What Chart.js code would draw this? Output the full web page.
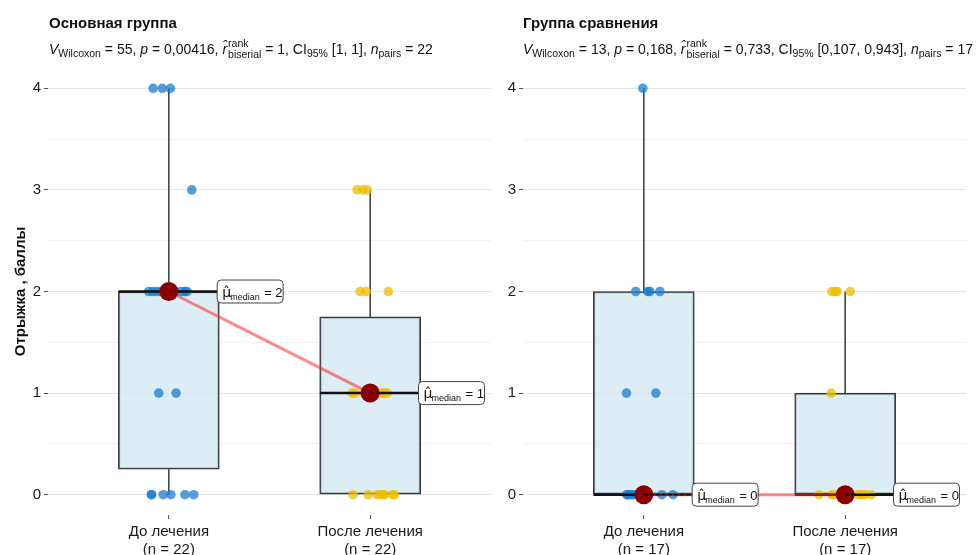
<!DOCTYPE html>
<html>
<head>
<meta charset="utf-8">
<script src="https://cdn.jsdelivr.net/npm/chart.js@4"></script>
<style>
  body { margin: 0; background: #fff; font-family: "Liberation Sans", Arial, sans-serif; }
  #wrap { position: relative; width: 978px; height: 555px; overflow: hidden; }
  canvas { position: absolute; top: 0; }
  .ttl { position: absolute; font-weight: bold; font-size: 15px; color: #111; top: 14px; white-space: nowrap; }
  .sub { position: absolute; font-size: 14px; color: #111; top: 39px; white-space: nowrap; line-height: 20px; }
  .sub sub { font-size: 10.5px; vertical-align: -3px; }
  .stk { display: inline-block; vertical-align: middle; font-size: 10.5px; line-height: 11px; margin-left: 1px; position: relative; top: -1px; }
  .stk span { display: block; }
</style>
</head>
<body>
<div id="wrap">
  <canvas id="left" width="495" height="555" style="left:0;width:495px;height:555px"></canvas>
  <canvas id="right" width="483" height="555" style="left:495px;width:483px;height:555px"></canvas>
  <div class="ttl" style="left:49px">Основная группа</div>
  <div class="sub" style="left:49px"><i>V</i><sub>Wilcoxon</sub> = 55, <i>p</i> = 0,00416, <i>r̂</i><span class="stk"><span>rank</span><span>biserial</span></span> = 1, CI<sub>95%</sub> [1, 1], <i>n</i><sub>pairs</sub> = 22</div>
  <div class="ttl" style="left:523px">Группа сравнения</div>
  <div class="sub" style="left:523px"><i>V</i><sub>Wilcoxon</sub> = 13, <i>p</i> = 0,168, <i>r̂</i><span class="stk"><span>rank</span><span>biserial</span></span> = 0,733, CI<sub>95%</sub> [0,107, 0,943], <i>n</i><sub>pairs</sub> = 17</div>
</div>
<script>
// данные
const categories = ["До лечения", "После лечения"];
const mainTickLabels = [["До лечения", "(n = 22)"], ["После лечения", "(n = 22)"]];
const compTickLabels = [["До лечения", "(n = 17)"], ["После лечения", "(n = 17)"]];
const yTicks = [0, 1, 2, 3, 4];

// Основная группа
const mainBefore = [4, 4, 4, 3, 2, 2, 2, 2, 2, 2, 2, 2, 2, 2, 1, 1, 0, 0, 0, 0, 0, 0];
const mainBeforeJitter = [-0.078, -0.033, 0.008, 0.114, -0.10, -0.08, -0.06, -0.04, -0.02, 0.0, 0.03, 0.06, 0.08, 0.09, -0.05, 0.036, -0.086, -0.086, -0.028, 0.01, 0.08, 0.124];
const mainAfter = [3, 3, 3, 2, 2, 2, 1, 1, 1, 1, 1, 1, 1, 1, 0, 0, 0, 0, 0, 0, 0, 0];
const mainAfterJitter = [-0.065, -0.035, -0.015, -0.05, -0.02, 0.09, -0.09, -0.075, -0.03, 0.0, 0.02, 0.06, 0.07, 0.085, -0.085, -0.01, 0.035, 0.05, 0.065, 0.07, 0.11, 0.12];
const mainQ1 = [0.25, 0];
const mainMedian = [2, 1];
const mainQ3 = [2, 1.75];
const mainWhiskerLow = [0, 0];
const mainWhiskerHigh = [4, 3];

// Группа сравнения
const compBefore = [4, 2, 2, 2, 2, 1, 1, 0, 0, 0, 0, 0, 0, 0, 0, 0, 0];
const compBeforeJitter = [-0.005, -0.04, 0.02, 0.03, 0.08, -0.086, 0.06, -0.085, -0.08, -0.07, -0.06, -0.05, -0.02, 0.0, 0.02, 0.09, 0.145];
const compAfter = [2, 2, 2, 2, 1, 0, 0, 0, 0, 0, 0, 0, 0, 0, 0, 0, 0];
const compAfterJitter = [-0.066, -0.05, -0.04, 0.025, -0.07, -0.13, -0.065, -0.06, -0.03, -0.01, 0.0, 0.02, 0.065, 0.075, 0.085, 0.1, 0.13];
const compQ1 = [0, 0];
const compMedian = [0, 0];
const compQ3 = [2, 1];
const compWhiskerLow = [0, 0];
const compWhiskerHigh = [4, 2];

const blue = "rgba(25,125,205,0.75)";
const yellow = "rgba(238,190,0,0.75)";
const boxFill = "rgba(205,230,242,0.7)";
const edge = "#3a3a3a";
const labelOffset = 0.24;

function points(values, jitter, pos) {
  return values.map((v, i) => ({ x: pos + jitter[i], y: v }));
}

// подпись медианы в рамке
const medianLabels = {
  id: "medianLabels",
  afterDatasetsDraw(chart, args, opts) {
    const ctx = chart.ctx;
    const xs = chart.scales.x, ys = chart.scales.y;
    opts.medians.forEach((m, i) => {
      const x0 = xs.getPixelForValue(i + 1 + labelOffset);
      const y0 = ys.getPixelForValue(m);
      const w = 66, h = 23;
      ctx.save();
      ctx.beginPath();
      ctx.roundRect(x0, y0 - h / 2, w, h, 4);
      ctx.fillStyle = "#fff";
      ctx.fill();
      ctx.strokeStyle = "#444";
      ctx.lineWidth = 1;
      ctx.stroke();
      ctx.fillStyle = "#111";
      ctx.textBaseline = "alphabetic";
      ctx.font = '14px "DejaVu Sans", sans-serif';
      ctx.fillText("μ\u0302", x0 + 5, y0 + 5);
      ctx.font = '9px "Liberation Sans", sans-serif';
      ctx.fillText("median", x0 + 13, y0 + 8);
      ctx.font = '13px "Liberation Sans", sans-serif';
      ctx.fillText("= " + m, x0 + 47, y0 + 5);
      ctx.restore();
    });
  }
};

function makeChart(id, before, beforeJ, after, afterJ, q1, med, q3, wLo, wHi, tickLabels, isLeft) {
  const datasets = [];
  datasets.push({
    type: "bar",
    data: [1, 2].map((c, i) => ({ x: c, y: [q1[i], q3[i]] })),
    backgroundColor: boxFill,
    borderColor: edge,
    borderWidth: 1.5,
    borderSkipped: false,
    barThickness: 101,
    order: 10
  });
  [0, 1].forEach(i => {
    const c = i + 1;
    [[wLo[i], q1[i]], [q3[i], wHi[i]]].forEach(seg => {
      if (seg[0] === seg[1]) return;
      datasets.push({
        type: "scatter", showLine: true,
        data: [{ x: c, y: seg[0] }, { x: c, y: seg[1] }],
        borderColor: edge, borderWidth: 1.5, pointRadius: 0, order: 9
      });
    });
  });
  datasets.push({
    type: "scatter", data: points(before, beforeJ, 1),
    backgroundColor: blue, borderWidth: 0, pointRadius: 4.8, order: 8
  });
  datasets.push({
    type: "scatter", data: points(after, afterJ, 2),
    backgroundColor: yellow, borderWidth: 0, pointRadius: 4.8, order: 8
  });
  [0, 1].forEach(i => {
    const c = i + 1;
    datasets.push({
      type: "scatter", showLine: true,
      data: [{ x: c - 0.25, y: med[i] }, { x: c + 0.25, y: med[i] }],
      borderColor: "#111", borderWidth: 2.5, pointRadius: 0, order: 7
    });
  });
  datasets.push({
    type: "scatter", showLine: true,
    data: [{ x: 1, y: med[0] }, { x: 2, y: med[1] }],
    borderColor: "rgba(255,40,40,0.55)", borderWidth: 3, pointRadius: 0, order: 6
  });
  datasets.push({
    type: "scatter",
    data: [{ x: 1, y: med[0] }, { x: 2, y: med[1] }],
    backgroundColor: "#8b0000", borderWidth: 0, pointRadius: 9.5, order: 5
  });
  [0, 1].forEach(i => {
    const c = i + 1;
    datasets.push({
      type: "scatter", showLine: true,
      data: [{ x: c, y: med[i] }, { x: c + labelOffset, y: med[i] }],
      borderColor: "#111", borderWidth: 1.2, borderDash: [4, 2], pointRadius: 0, order: 4
    });
  });

  const yTitle = isLeft
    ? { display: true, text: "Отрыжка , баллы", color: "#111", padding: { top: 12, bottom: 0 },
        font: { family: '"Liberation Sans", Arial, sans-serif', size: 15, weight: "bold" } }
    : { display: false };

  return new Chart(document.getElementById(id), {
    data: { datasets },
    plugins: [medianLabels],
    options: {
      responsive: false,
      animation: false,
      layout: { autoPadding: false, padding: { top: 68, right: isLeft ? 4 : 12, left: 0, bottom: 0 } },
      plugins: {
        legend: { display: false },
        tooltip: { enabled: false },
        medianLabels: { medians: med }
      },
      scales: {
        x: {
          type: "linear", min: 0.4, max: 2.6, offset: false,
          afterBuildTicks: s => { s.ticks = [1, 2].map(v => ({ value: v })); },
          afterFit: s => { s.height = 40; },
          border: { display: false },
          grid: { offset: false, drawOnChartArea: false, tickLength: 4, tickColor: "#555" },
          ticks: {
            padding: 4, color: "#1a1a1a",
            font: { family: '"Liberation Sans", Arial, sans-serif', size: 15 },
            callback: v => tickLabels[v - 1]
          }
        },
        y: {
          min: -0.2, max: 4.2,
          afterBuildTicks: s => {
            const t = [];
            for (let v = 0; v <= 4; v += 0.5) t.push({ value: v });
            s.ticks = t;
          },
          afterFit: s => { s.width = isLeft ? 48 : 28; },
          border: { display: false },
          grid: {
            tickLength: 4,
            color: c => (c.tick && c.tick.value % 1 === 0) ? "#e6e6e6" : "#f3f3f3",
            tickColor: c => (c.tick && c.tick.value % 1 === 0) ? "#555" : "rgba(0,0,0,0)",
            lineWidth: 1
          },
          ticks: {
            padding: 3, color: "#1a1a1a",
            font: { family: '"Liberation Sans", Arial, sans-serif', size: 15 },
            callback: v => yTicks.includes(v) ? String(v) : ""
          },
          title: yTitle
        }
      }
    }
  });
}

makeChart("left", mainBefore, mainBeforeJitter, mainAfter, mainAfterJitter,
  mainQ1, mainMedian, mainQ3, mainWhiskerLow, mainWhiskerHigh, mainTickLabels, true);
makeChart("right", compBefore, compBeforeJitter, compAfter, compAfterJitter,
  compQ1, compMedian, compQ3, compWhiskerLow, compWhiskerHigh, compTickLabels, false);
</script>
</body>
</html>
